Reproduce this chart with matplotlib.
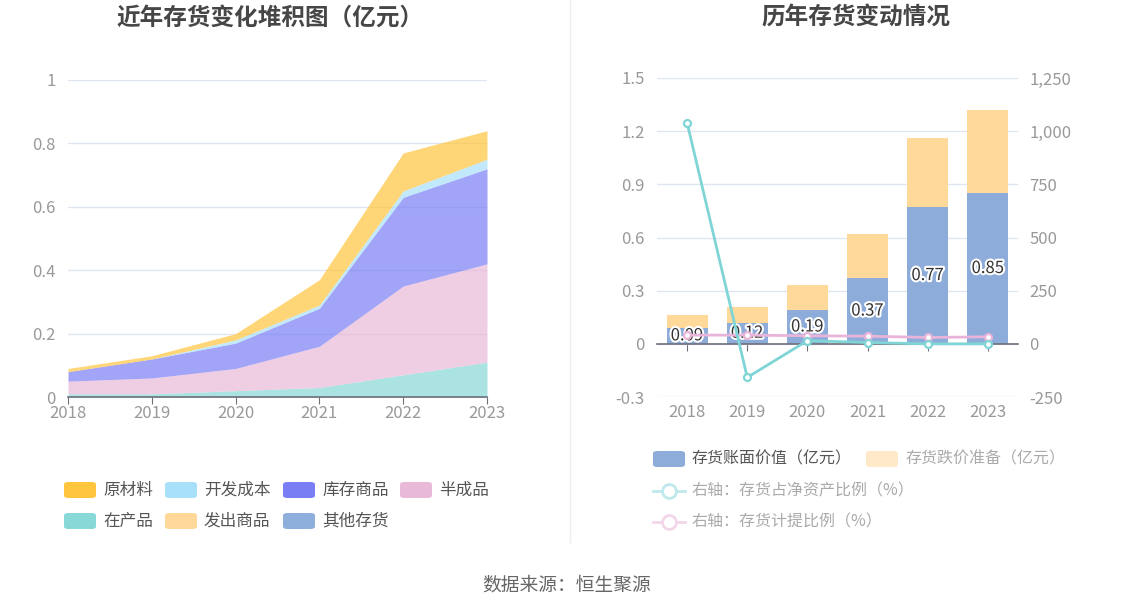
import matplotlib
matplotlib.use("Agg")
import matplotlib.pyplot as plt
from matplotlib.patches import FancyBboxPatch
from matplotlib.lines import Line2D
import matplotlib.patheffects as pe
import numpy as np

plt.rcParams['font.family'] = ['Noto Sans CJK SC', 'DejaVu Sans']

years = ["2018", "2019", "2020", "2021", "2022", "2023"]

# Left chart: stacked inventory composition (亿元)
series_names = ["原材料", "开发成本", "库存商品", "半成品", "在产品", "发出商品", "其他存货"]
raw_material = [0.01, 0.01, 0.02, 0.08, 0.12, 0.09]
dev_cost = [0.0, 0.0, 0.01, 0.01, 0.02, 0.03]
goods_stock = [0.03, 0.06, 0.08, 0.12, 0.28, 0.30]
semi_finished = [0.04, 0.05, 0.07, 0.13, 0.28, 0.31]
wip = [0.01, 0.01, 0.015, 0.03, 0.07, 0.11]
goods_shipped = [0.0, 0.0, 0.0, 0.0, 0.0, 0.0]
other_inv = [0.0, 0.0, 0.005, 0.0, 0.0, 0.0]
series_colors = ["#ffc53d", "#a8e0fa", "#7a7ef5", "#e9b9d8", "#88d8d8", "#ffd89a", "#8eaedb"]

# Right chart
book_value = [0.09, 0.12, 0.19, 0.37, 0.77, 0.85]
impairment = [0.07, 0.09, 0.14, 0.25, 0.39, 0.47]
inv_to_net_assets = [1040, -158, 15, 6, 0, 0]
provision_ratio = [41, 41, 38, 36, 30, 33]
right_legend = ["存货账面价值（亿元）", "存货跌价准备（亿元）", "右轴：存货占净资产比例（%）", "右轴：存货计提比例（%）"]

W, H = 1134, 612
fig = plt.figure(figsize=(W / 100, H / 100), dpi=100)
fig.patch.set_facecolor("white")

def fx(px):
    return px / W

def fy(py):
    return 1 - py / H

grid_c = "#e0e6f1"
tick_c = "#999999"
axis_c = "#6e7079"
TICK_FS = 12

# ---------------- Left chart ----------------
axL = fig.add_axes([fx(68), fy(397), fx(487) - fx(68), fy(80) - fy(397)])
x = np.arange(len(years))
stack_data = [other_inv, goods_shipped, wip, semi_finished, goods_stock, dev_cost, raw_material]
stack_cols = [series_colors[6], series_colors[5], series_colors[4], series_colors[3],
              series_colors[2], series_colors[1], series_colors[0]]
base = np.zeros(len(years))
for vals, col in zip(stack_data, stack_cols):
    top = base + np.array(vals)
    axL.fill_between(x, base, top, color=col, alpha=0.7, linewidth=0, zorder=2)
    base = top
axL.set_xlim(0, len(years) - 1)
axL.set_ylim(0, 1)
axL.set_yticks([0, 0.2, 0.4, 0.6, 0.8, 1.0])
axL.set_yticklabels(["0", "0.2", "0.4", "0.6", "0.8", "1"])
axL.set_xticks(x)
axL.set_xticklabels(years)
axL.grid(axis="y", color=grid_c, linewidth=1, zorder=0)
for s in ["top", "right", "left"]:
    axL.spines[s].set_visible(False)
axL.spines["bottom"].set_color(axis_c)
axL.spines["bottom"].set_linewidth(1.2)
axL.spines["bottom"].set_zorder(5)
axL.tick_params(axis="y", length=0, labelsize=TICK_FS, labelcolor=tick_c, pad=9)
axL.tick_params(axis="x", length=5, color=axis_c, labelsize=TICK_FS, labelcolor=tick_c, pad=1)

fig.text(fx(270), fy(18), "近年存货变化堆积图（亿元）", ha="center", va="center",
         fontsize=17, fontweight="bold", color="#464646")

# Left legend
leg_pos = [(64, 490), (165, 490), (283, 490), (400, 490), (64, 521), (165, 521), (283, 521)]
for name, col, (px, py) in zip(series_names, series_colors, leg_pos):
    p = FancyBboxPatch((fx(px), fy(py + 8)), fx(32), fy(0) - fy(16),
                       boxstyle="round,pad=0,rounding_size=0.004", transform=fig.transFigure,
                       facecolor=col, edgecolor="none")
    fig.patches.append(p)
    fig.text(fx(px + 39), fy(py), name, ha="left", va="center", fontsize=12, color="#555555")

# separator
fig.add_artist(Line2D([fx(570), fx(570)], [fy(0), fy(542)], color="#eeeeee", linewidth=1))

# ---------------- Right chart ----------------
axR = fig.add_axes([fx(657), fy(397), fx(1018) - fx(657), fy(78) - fy(397)])
xb = np.arange(len(years))
bw = 0.68
axR.bar(xb, book_value, width=bw, color="#8eacd9", zorder=2)
axR.bar(xb, impairment, width=bw, bottom=book_value, color="#ffd99a", zorder=2)
for xi, v in zip(xb, book_value):
    axR.text(xi, v / 2, f"{v:.2f}", ha="center", va="center", fontsize=12, color="#333333",
             zorder=6, path_effects=[pe.withStroke(linewidth=3, foreground="white")])
axR.set_xlim(-0.5, len(years) - 0.5)
axR.set_ylim(-0.3, 1.5)
axR.set_yticks([-0.3, 0, 0.3, 0.6, 0.9, 1.2, 1.5])
axR.set_yticklabels(["-0.3", "0", "0.3", "0.6", "0.9", "1.2", "1.5"])
axR.grid(axis="y", color=grid_c, linewidth=1, zorder=0)
for s in ["top", "right", "left"]:
    axR.spines[s].set_visible(False)
axR.spines["bottom"].set_position(("data", 0))
axR.spines["bottom"].set_color(axis_c)
axR.spines["bottom"].set_linewidth(1.2)
axR.spines["bottom"].set_zorder(3)
axR.set_xticks(xb)
axR.tick_params(axis="x", length=5, color=axis_c, labelbottom=False)
axR.tick_params(axis="y", length=0, labelsize=TICK_FS, labelcolor=tick_c, pad=9)
sec = axR.secondary_xaxis(0)
sec.set_xticks(xb)
sec.set_xticklabels(years)
sec.tick_params(length=0, labelsize=TICK_FS, labelcolor=tick_c, pad=5)
sec.spines["bottom"].set_visible(False)

ax2 = axR.twinx()
ax2.set_ylim(-250, 1250)
ax2.set_yticks([-250, 0, 250, 500, 750, 1000, 1250])
ax2.set_yticklabels(["-250", "0", "250", "500", "750", "1,000", "1,250"])
for s in ["top", "right", "left", "bottom"]:
    ax2.spines[s].set_visible(False)
ax2.tick_params(axis="y", length=0, labelsize=TICK_FS, labelcolor=tick_c, pad=8)
ax2.plot(xb, provision_ratio, color="#e8b4da", linewidth=2, marker="o", markersize=5,
         markerfacecolor="white", markeredgewidth=1.6, zorder=4)
ax2.plot(xb, inv_to_net_assets, color="#7fd5d5", linewidth=2, marker="o", markersize=5,
         markerfacecolor="white", markeredgewidth=1.6, zorder=5)

fig.text(fx(856), fy(18), "历年存货变动情况", ha="center", va="center",
         fontsize=17, fontweight="bold", color="#464646")

# Right legend
def swatch(px, py, col):
    p = FancyBboxPatch((fx(px), fy(py + 8)), fx(32), fy(0) - fy(16),
                       boxstyle="round,pad=0,rounding_size=0.004", transform=fig.transFigure,
                       facecolor=col, edgecolor="none")
    fig.patches.append(p)

def line_icon(px, py, col):
    fig.add_artist(Line2D([fx(px), fx(px + 32)], [fy(py), fy(py)], color=col, linewidth=2))
    fig.add_artist(Line2D([fx(px + 16)], [fy(py)], color=col, marker="o", markersize=10,
                          markerfacecolor="white", markeredgewidth=2))

swatch(653, 459, "#8eacd9")
fig.text(fx(692), fy(459), right_legend[0], ha="left", va="center", fontsize=11.5, color="#555555")
swatch(866, 459, "#ffe9c8")
fig.text(fx(905), fy(459), right_legend[1], ha="left", va="center", fontsize=11.5, color="#aaaaaa")
line_icon(653, 491, "#bfe9ec")
fig.text(fx(692), fy(491), right_legend[2], ha="left", va="center", fontsize=11.5, color="#aaaaaa")
line_icon(653, 522, "#f2d6ea")
fig.text(fx(692), fy(522), right_legend[3], ha="left", va="center", fontsize=11.5, color="#aaaaaa")

fig.text(fx(567), fy(585), "数据来源：恒生聚源", ha="center", va="center", fontsize=13.5, color="#666666")

fig.savefig("out.png", dpi=100, facecolor="white")
